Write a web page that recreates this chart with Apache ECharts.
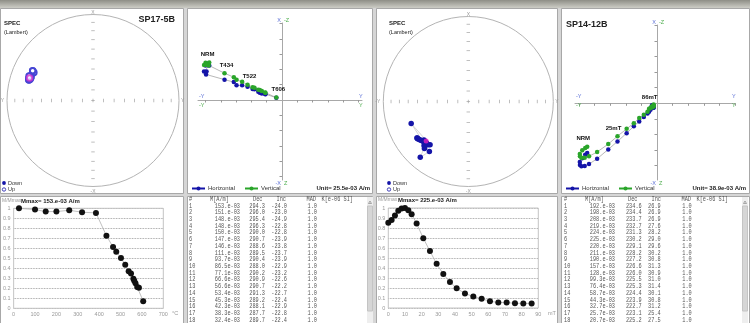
<!DOCTYPE html>
<html><head><meta charset="utf-8">
<script src="https://cdn.jsdelivr.net/npm/echarts@6/dist/echarts.min.js"></script>
<style>html,body{margin:0;padding:0;background:#d6d6d6;}#c{width:750px;height:323px;}</style>
</head><body><div id="c"></div>
<script>
// ===== DATA: sample SP17-5B (thermal demagnetization) =====
const stepsT = [25,100,150,200,260,320,385,434,465,480,502,522,538,549,560,564,570,578,586,606];
const m1   = [153,151,148,148,150,147,146,111,93.7,86.5,77.1,66.6,56.6,53.4,45.3,42.3,38.3,32.4,31.6,10.9]; // e-03 A/m
const dec1 = [294.3,296.0,295.4,296.3,290.0,290.7,288.6,289.5,290.4,288.0,290.2,290.9,290.7,291.3,289.2,288.1,287.7,289.7,289.0,291.0];
const inc1 = [-24.0,-23.0,-24.9,-22.8,-22.8,-23.9,-23.8,-23.7,-23.9,-22.9,-23.2,-22.6,-22.2,-22.7,-22.4,-22.9,-22.8,-22.4,-22.6,-21.5];
const mean1 = [289.5,-22.8];           // dec, inc
const zLabels1 = ['NRM','T434','T522','T606'];
const unit1 = '25.5e-03';
const zTick1 = 25.5;
const name1 = 'SP17-5B';
const tempTicks = [0,100,200,300,400,500,600,700];

// ===== DATA: sample SP14-12B (AF demagnetization) =====
const stepsAF = [0,2,4,6,8,10,12,14,17,21,25,29,33,37,41,46,51,56,61,66,71,76,81,86];
const m2   = [192,198,208,219,224,225,220,211,190,157,128,99.3,76.4,58.7,44.3,32.7,25.7,20.7,15.1,12.4,12.3,10.6,10.4,10.3];
const dec2 = [234.6,234.4,233.7,232.7,231.3,230.2,229.1,228.2,227.2,226.6,226.0,225.5,225.3,224.4,223.9,222.7,223.1,225.2,221.4,249.0,217.9,220.7,224.0,229.0];
const inc2 = [26.9,26.9,26.9,27.6,28.2,29.0,29.6,30.2,30.8,31.3,30.9,31.0,31.4,30.1,30.8,31.2,25.4,27.5,32.5,28.8,26.4,14.4,27.0,31.5];
const mean2 = [226.8,32.5];
const zLabels2 = ['NRM','25mT','86mT'];
const unit2 = '38.9e-03';
const zTick2 = 31.2;
const name2 = 'SP14-12B';

const madValue = '1.0';

// ===== helpers =====
const D2R = Math.PI/180;
const lambert = inc => Math.SQRT2*Math.sin((90-Math.abs(inc))/2*D2R);
const comps = (m,d,i) => { const h=m*Math.cos(i*D2R); return {x:h*Math.cos(d*D2R), y:h*Math.sin(d*D2R), z:m*Math.sin(i*D2R)}; };
const fmtM = v => v >= 100 ? Math.round(v)+'.e-03' : v.toFixed(1)+'e-03';
const max1 = Math.max(...m1), max2 = Math.max(...m2);
const stepName1 = stepsT.map((t,i)=> i===0 ? 'NRM' : 'T'+t);
const stepName2 = stepsAF.map((t,i)=> i===0 ? 'NRM' : t+'mT');

const BLUE='#1414a8', GREEN='#2aa52a', LBLUE='#5b6fd6', LGREEN='#4fae4f';
const SANS='Liberation Sans', MONO='Liberation Mono';

const g = [];
function rect(x,y,w,h,fill,stroke,z){ g.push({type:'rect',z:z||0,silent:true,shape:{x,y,width:w,height:h},style:{fill,stroke:stroke||null,lineWidth:1}}); }
function txt(x,y,text,o){ o=o||{}; g.push({type:'text',z:100,silent:true,x,y,scaleX:o.scaleX||1,
  style:{text,fontSize:o.size||6,fontFamily:o.font||SANS,fontWeight:o.bold?'bold':'normal',fill:o.color||'#222',
  align:o.align||'left',verticalAlign:o.va||'middle',lineHeight:o.lh||undefined}}); }

// ===== chrome =====
g.push({type:'rect',z:0,silent:true,shape:{x:0,y:0,width:750,height:8},
  style:{fill:new echarts.graphic.LinearGradient(0,0,0,1,[{offset:0,color:'#8e8e86'},{offset:1,color:'#cdcdc6'}])}});
[[0.5,8.5,183,185],[187.5,8.5,185,185],[376.5,8.5,181,185],[561.5,8.5,188,185],
 [0.5,196.5,183,127],[187.5,196.5,185,127],[376.5,196.5,181,127],[561.5,196.5,188,127]]
 .forEach(r=>rect(r[0],r[1],r[2],r[3],'#ffffff','#a8a8a8',0));

// ===== stereonet texts =====
function stereoText(ox, cx, cy, r){
  txt(ox+4,23,'SPEC',{bold:true,size:6});
  txt(ox+4,32,'(Lambert)',{size:5.5});
  txt(cx,cy-r-2,'X',{align:'center',size:5,color:'#999'});
  txt(cx,cy+r+5,'-X',{align:'center',size:5,color:'#999'});
  txt(cx-r-3,cy,'-Y',{align:'right',size:5,color:'#999'});
  txt(cx+r+2,cy,'Y',{align:'left',size:5,color:'#999'});
  g.push({type:'circle',z:100,silent:true,shape:{cx:ox+4,cy:183,r:1.9},style:{fill:BLUE}});
  txt(ox+8,183,'Down',{size:5.5,color:'#333'});
  g.push({type:'circle',z:100,silent:true,shape:{cx:ox+4,cy:189.5,r:1.7},style:{fill:'#fff',stroke:BLUE,lineWidth:0.8}});
  txt(ox+8,189.5,'Up',{size:5.5,color:'#333'});
}
stereoText(0,93,100.5,86);
stereoText(385,468.3,101.5,85);
txt(175,20,name1,{bold:true,size:9,align:'right'});
txt(566,25,name2,{bold:true,size:9});

// ===== Zijderveld texts =====
function zijText(cx, top, bottom, left, right){
  txt(cx-1,top-3,'X',{align:'right',size:5.5,color:LBLUE});
  txt(cx+2,top-3,'-Z',{align:'left',size:5.5,color:LGREEN});
  txt(cx-1,bottom+3,'-X',{align:'right',size:5.5,color:LBLUE});
  txt(cx+2,bottom+3,'Z',{align:'left',size:5.5,color:LGREEN});
  txt(left+1,96.5,'-Y',{size:5.5,color:LBLUE});
  txt(left+1,105,'-Y',{size:5.5,color:LGREEN});
  txt(right-3,96.5,'Y',{size:5.5,color:LBLUE});
  txt(right-3,105,'Y',{size:5.5,color:LGREEN});
}
zijText(282,23,180,198,362);
zijText(657,25,180,575,735);
txt(370,188.5,'Unit= '+unit1+' A/m',{bold:true,size:6,align:'right'});
txt(746,188.5,'Unit= '+unit2+' A/m',{bold:true,size:6,align:'right'});

// ===== demag texts =====
txt(2,201,'M/Mmax',{size:5,color:'#999'});
txt(21,201,'Mmax= '+fmtM(max1)+' A/m',{bold:true,size:6});
txt(172,313.5,'\u00b0C',{size:5.5,color:'#999'});
txt(378,200,'M/Mmax',{size:5,color:'#999'});
txt(398,200,'Mmax= '+fmtM(max2)+' A/m',{bold:true,size:6});
txt(548,313.5,'mT',{size:5.5,color:'#999'});

// ===== tables =====
function table(ox, cols, m, dec, inc, scrollX){
  const SX=0.75, LH=6.72, y0=205.7-LH/2, C='#555';
  const o = {font:MONO,size:7,scaleX:SX,color:C};
  txt(ox+4,199,'#',o);
  txt(cols.mh,199,'M[A/m]',o); txt(cols.dh,199,'Dec',o); txt(cols.ih,199,'Inc',o);
  txt(cols.ah,199,'MAD',o); txt(cols.kh,199,'K[e-06 SI]',o);
  const lines = (arr)=>arr.join('\n');
  const ob = Object.assign({},o,{va:'top',lh:LH});
  txt(ox+4,y0,lines(m.map((v,i)=>String(i+1))),ob);
  txt(cols.m,y0,lines(m.map(fmtM)),Object.assign({},ob,{align:'right'}));
  txt(cols.d,y0,lines(dec.map(v=>v.toFixed(1))),Object.assign({},ob,{align:'right'}));
  txt(cols.i,y0,lines(inc.map(v=>v.toFixed(1))),Object.assign({},ob,{align:'right'}));
  txt(cols.a,y0,lines(m.map(()=>madValue)),Object.assign({},ob,{align:'right'}));
  rect(scrollX,197,6,126,'#eeeeee',null,50);
  rect(scrollX+0.5,206,5,105,'#d6d6d6','#c4c4c4',51);
  g.push({type:'polygon',z:52,silent:true,shape:{points:[[scrollX+1.5,203.5],[scrollX+3,201],[scrollX+4.5,203.5]]},style:{fill:'none',stroke:'#888',lineWidth:0.7}});
}
table(185,{mh:210,dh:253,ih:276.5,ah:306.5,kh:321.5,m:240,d:265,i:287,a:317},m1,dec1,inc1,367);
table(560,{mh:585,dh:628,ih:651.5,ah:681.5,kh:696.5,m:615,d:641.7,i:660.7,a:691.7},m2,dec2,inc2,742);

// ===== series builders =====
function gratSeries(pi){
  const ns=[[0,0]], ew=[[0,0]];
  for(let inc=10; inc<90; inc+=10){ const r=lambert(inc); ns.push([r,0],[r,180]); ew.push([r,90],[r,270]); }
  const base={type:'scatter',coordinateSystem:'polar',polarIndex:pi,silent:true,itemStyle:{color:'#9a9a9a'},symbol:'rect',z:1};
  return [Object.assign({data:ns,symbolSize:[3.5,0.8]},base), Object.assign({data:ew,symbolSize:[0.8,3.5]},base)];
}
const range = (lo,hi,step)=>{ const a=[]; for(let k=Math.ceil(lo/step);k*step<=hi;k++) a.push(+(k*step).toFixed(4)); return a; };

function zijSeries(gi, m, dec, inc, names, labels, labelOffset){
  const c = m.map((v,i)=>comps(v,dec[i],inc[i]));
  const hor = c.map(p=>[p.y,p.x]);
  const ver = c.map((p,i)=>{
    const it={value:[p.y,-p.z]};
    if(labels.includes(names[i])) it.label={show:true,formatter:names[i],position:'top',distance:3,offset:labelOffset,
      fontSize:6,fontWeight:'bold',color:'#111',fontFamily:SANS};
    return it;});
  const base={type:'line',xAxisIndex:gi,yAxisIndex:gi,symbol:'circle',symbolSize:4.5,lineStyle:{color:'#9a9a9a',width:0.7},animation:false,z:3};
  return [Object.assign({name:'Horizontal',data:hor,itemStyle:{color:BLUE}},base),
          Object.assign({name:'Vertical',data:ver,itemStyle:{color:GREEN}},base)];
}

const series = [
  ...gratSeries(0), ...gratSeries(1),
  {name:'Up',type:'line',coordinateSystem:'polar',polarIndex:0,symbol:'emptyCircle',symbolSize:5.5,
   data:dec1.map((d,i)=>[lambert(inc1[i]),d]),itemStyle:{color:'#4646d4',borderWidth:0.8},lineStyle:{color:'#9a78dc',width:0.7},z:3},
  {type:'scatter',coordinateSystem:'polar',polarIndex:0,symbol:'emptyCircle',symbolSize:5.5,
   data:[[lambert(mean1[1]),mean1[0]]],itemStyle:{color:'#d030d0',borderWidth:1.2},z:4},
  {name:'Down',type:'line',coordinateSystem:'polar',polarIndex:1,symbol:'circle',symbolSize:5.5,
   data:dec2.map((d,i)=>[lambert(inc2[i]),d]),itemStyle:{color:BLUE},lineStyle:{color:'#cccccc',width:0.8},z:3},
  {type:'scatter',coordinateSystem:'polar',polarIndex:1,symbol:'circle',symbolSize:5,
   data:[[lambert(mean2[1]),mean2[0]]],itemStyle:{color:'#e020c0'},z:4},
  ...zijSeries(0,m1,dec1,inc1,stepName1,zLabels1,[2,0]),
  ...zijSeries(1,m2,dec2,inc2,stepName2,zLabels2,[-4,0]),
  {type:'line',xAxisIndex:2,yAxisIndex:2,symbol:'circle',symbolSize:6,data:stepsT.map((t,i)=>[t,m1[i]/max1]),
   itemStyle:{color:'#111'},lineStyle:{color:'#b0b0b0',width:0.8},z:3},
  {type:'line',xAxisIndex:3,yAxisIndex:3,symbol:'circle',symbolSize:6,data:stepsAF.map((t,i)=>[t,m2[i]/max2]),
   itemStyle:{color:'#111'},lineStyle:{color:'#b0b0b0',width:0.8},z:3}
];

const zAxis = (gi,min,max,step)=>({gridIndex:gi,type:'value',min,max,
  axisLine:{onZero:true,lineStyle:{color:'#a8a8a8',width:1}},
  axisTick:{show:true,customValues:range(min,max,step).filter(v=>v!==0),length:2.5,inside:false,lineStyle:{color:'#999'}},
  axisLabel:{show:false},splitLine:{show:false}});
const labStyle = {fontSize:5.5,color:'#999',fontFamily:SANS};

const option = {
  animation:false,
  backgroundColor:'#d6d6d6',
  graphic:{elements:g},
  polar:[{center:[93,100.5],radius:86},{center:[468.3,101.5],radius:85}],
  angleAxis:[0,1].map(pi=>({polarIndex:pi,type:'value',min:0,max:360,startAngle:90,clockwise:true,
    axisLine:{show:true,lineStyle:{color:'#b4b4b4',width:1}},axisTick:{show:false},axisLabel:{show:false},splitLine:{show:false}})),
  radiusAxis:[0,1].map(pi=>({polarIndex:pi,type:'value',min:0,max:1,show:false,axisLine:{show:false},axisTick:{show:false},axisLabel:{show:false},splitLine:{show:false}})),
  grid:[
    {left:198,top:23,width:164,height:157},
    {left:575,top:25,width:160,height:155},
    {left:11.7,top:208.3,width:151.6,height:100,show:true,borderColor:'#c4c4c4',borderWidth:1,z:1},
    {left:388.3,top:208,width:150,height:100,show:true,borderColor:'#c4c4c4',borderWidth:1,z:1}
  ],
  xAxis:[
    zAxis(0,-140,133.3,zTick1),
    zAxis(1,-164,156,zTick2),
    {gridIndex:2,type:'value',min:tempTicks[0],max:tempTicks[tempTicks.length-1],interval:100,axisLine:{show:false},axisTick:{show:false},splitLine:{show:false},axisLabel:Object.assign({margin:3},labStyle)},
    {gridIndex:3,type:'value',min:0,max:90,interval:10,axisLine:{show:false},axisTick:{show:false},splitLine:{show:false},axisLabel:Object.assign({margin:3},labStyle)}
  ],
  yAxis:[
    zAxis(0,-133.3,128.3,zTick1),
    zAxis(1,-153.4,156.6,zTick2),
    ...[2,3].map(gi=>({gridIndex:gi,type:'value',min:0,max:1,interval:0.1,axisLine:{show:false},axisTick:{show:false},
      splitLine:{show:true,lineStyle:{type:'dotted',color:'#8a8a8a',width:0.8}},
      axisLabel:Object.assign({margin:3,formatter:v=>v>=0.999?'1':v<0.001?'0':v.toFixed(1)},labStyle)}))
  ],
  legend:[191,565].map(x=>({left:x,top:185.5,padding:0,itemWidth:13,itemHeight:5,itemGap:9,selectedMode:false,
    textStyle:{fontSize:6,color:'#333',fontFamily:SANS,padding:[0,0,0,-2]},
    data:[{name:'Horizontal',itemStyle:{color:BLUE},lineStyle:{color:BLUE}},{name:'Vertical',itemStyle:{color:GREEN},lineStyle:{color:GREEN}}]})),
  series
};
const chart = echarts.init(document.getElementById('c'),null,{width:750,height:323});
chart.setOption(option);
</script></body></html>
